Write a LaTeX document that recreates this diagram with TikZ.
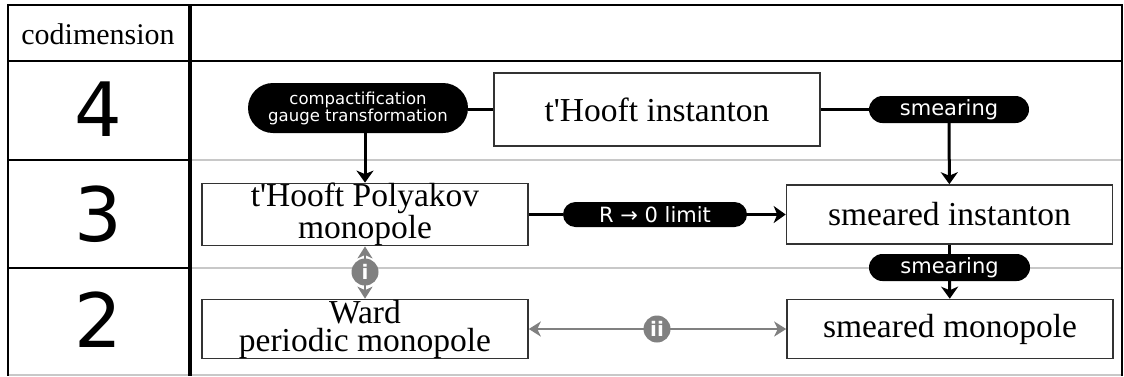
\documentclass[tikz,border=0pt]{standalone}
\usepackage{fontspec}
\setmainfont{Liberation Serif}
\setsansfont{DejaVu Sans}
\usetikzlibrary{arrows.meta}
\definecolor{rulegray}{RGB}{200,200,200}
\definecolor{markgray}{RGB}{128,128,128}

\begin{document}
\begin{tikzpicture}[x=1pt,y=-1pt,
 objbox/.style={draw=black!80, line width=1.6pt, minimum width=326pt, minimum height=59pt, inner sep=0pt, align=center, font=\fontsize{33.5}{28}\selectfont},
 pill/.style={fill=black, text=white, inner sep=0pt, font=\sffamily\fontsize{21}{21}\selectfont},
 digit/.style={font=\sffamily\fontsize{75}{75}\selectfont},
 roman/.style={circle, fill=markgray, text=white, minimum width=27pt, minimum height=27pt, inner sep=0pt, font=\sffamily\bfseries\fontsize{20}{20}\selectfont},
 conn/.style={line width=3pt},
 arr/.style={conn, -{Stealth[length=12pt,width=17pt,inset=3.5pt]}},
 garr/.style={markgray, line width=2.6pt, {Stealth[length=12pt,width=15pt,inset=3.5pt]}-{Stealth[length=12pt,width=15pt,inset=3.5pt]}}]
 \useasboundingbox (0,0) rectangle (1124,376);
 % table
 \draw[rulegray, line width=2pt] (190,160) -- (1122,160);
 \draw[rulegray, line width=2pt] (190,268) -- (1122,268);
 \draw[rulegray, line width=2pt] (8,375) -- (1122,375);
 \draw[line width=1.8pt] (8,5) -- (1122,5);
 \draw[line width=1.8pt] (8,61) -- (1122,61);
 \draw[line width=1.8pt] (8,160) -- (190,160);
 \draw[line width=1.8pt] (8,268) -- (190,268);
 \draw[line width=2.4pt] (8,4) -- (8,376);
 \draw[line width=3.6pt] (190,4) -- (190,376);
 \draw[line width=1.6pt] (1122,4) -- (1122,376);
 \node[font=\fontsize{30}{30}\selectfont] (codim) at (98,34) {codimension};
 \node[digit] (four) at (98,109.5) {4};
 \node[digit] (three) at (98,214.5) {3};
 \node[digit] (two) at (98,320) {2};

 % objects
 \node[objbox, minimum height=73pt] (inst) at (657,109.5) {t\textquotesingle Hooft instanton};
 \node[objbox] (tp) at (365,214.5) {t\textquotesingle Hooft Polyakov\\monopole};
 \node[objbox] (sinst) at (949.5,214.5) {smeared instanton};
 \node[objbox] (ward) at (365,329) {Ward\\periodic monopole};
 \node[objbox] (smono) at (950,329) {smeared monopole};

 % operations
 \node[pill, minimum width=220pt, minimum height=50pt, rounded corners=25pt, align=center, font=\sffamily\fontsize{16.5}{12}\selectfont] (comp) at (358,108) {compactification\\gauge transformation};
 \node[pill, minimum width=160pt, minimum height=27pt, rounded corners=13.5pt] (smear) at (949,109.5) {smearing};
 \node[pill, minimum width=184pt, minimum height=25pt, rounded corners=12.5pt] (limit) at (655,214.5) {R → 0 limit};
 \node[pill, minimum width=161pt, minimum height=27pt, rounded corners=13.5pt] (smearb) at (949.5,267.5) {smearing};

 \draw[conn] (inst.west) -- (comp.east |- inst.west);
 \draw[arr] (comp.south -| tp.north) -- (tp.north);
 \draw[conn] (inst) -- (smear);
 \draw[arr] (smear) -- (sinst);
 \draw[conn] (tp) -- (limit);
 \draw[arr] (limit) -- (sinst);
 \draw[conn] (sinst) -- (smearb);
 \draw[arr] (smearb) -- (smono);

 % relations
 \draw[garr] (tp) -- (ward);
 \node[roman] (ri) at (365,272) {i};
 \draw[garr] (ward) -- (smono);
 \node[roman] (rii) at (657,329) {ii};
\end{tikzpicture}
\end{document}
